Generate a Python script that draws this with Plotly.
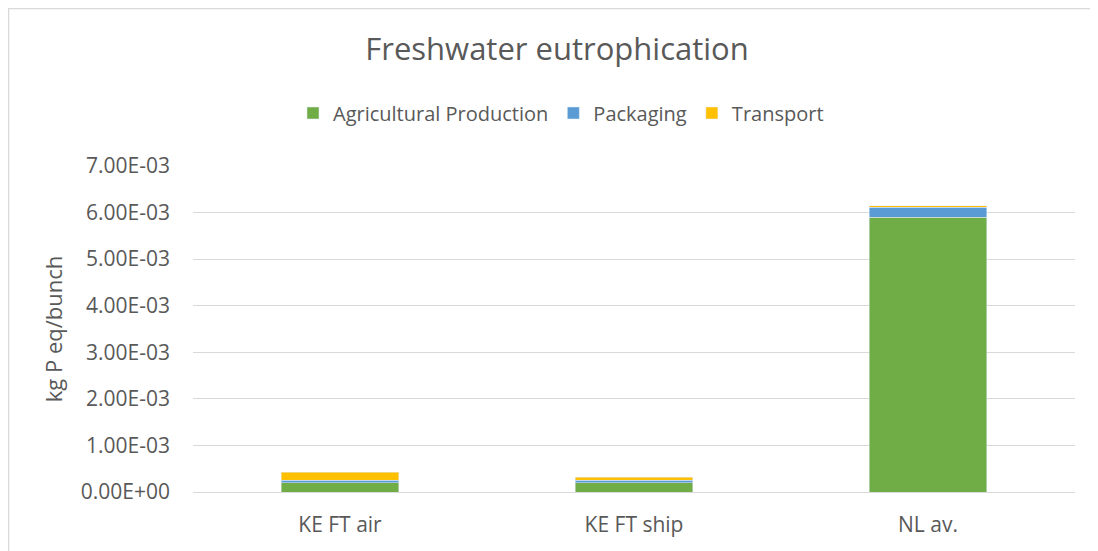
import plotly.graph_objects as go

categories = ['KE FT air', 'KE FT ship', 'NL av.']
agricultural = [0.20e-3, 0.20e-3, 5.90e-3]
packaging = [0.056e-3, 0.056e-3, 0.215e-3]
transport = [0.165e-3, 0.058e-3, 0.03e-3]

y_ticks = [0, 1e-3, 2e-3, 3e-3, 4e-3, 5e-3, 6e-3, 7e-3]
y_tick_labels = ['0.00E+00', '1.00E-03', '2.00E-03', '3.00E-03',
                 '4.00E-03', '5.00E-03', '6.00E-03', '7.00E-03']

text_color = '#595959'
font_family = 'Open Sans, Liberation Sans, sans-serif'

# page body has an 8px margin, so the figure is sized to the remaining area
W, H = 1090, 543
L, R, T, B = 185, 23, 158, 59
plot_w = W - L - R
plot_h = H - T - B

fig = go.Figure()
fig.add_trace(go.Bar(x=categories, y=agricultural, name='Agricultural Production',
                     marker_color='#70ad47'))
fig.add_trace(go.Bar(x=categories, y=packaging, name='Packaging',
                     marker_color='#5b9bd5'))
fig.add_trace(go.Bar(x=categories, y=transport, name='Transport',
                     marker_color='#ffc000'))

fig.update_layout(
    barmode='stack',
    bargap=0.6,
    width=W,
    height=H,
    margin=dict(l=L, r=R, t=T, b=B),
    paper_bgcolor='white',
    plot_bgcolor='white',
    font=dict(family=font_family, size=21, color=text_color),
    title=dict(text='Freshwater eutrophication', x=(557 - 8) / W, xanchor='center',
               y=1 - 41 / H, yanchor='middle',
               font=dict(size=31, color=text_color)),
    legend=dict(orientation='h', x=(561 - 8 - L) / plot_w, xanchor='center',
                y=(plot_h + T - 105) / plot_h, yanchor='middle',
                font=dict(size=20, color=text_color), traceorder='normal'),
    showlegend=True,
)

fig.update_yaxes(
    range=[0, 7e-3],
    tickvals=y_ticks,
    ticktext=y_tick_labels,
    showgrid=True,
    gridcolor='#d9d9d9',
    gridwidth=1,
    zeroline=False,
    showline=False,
    ticks='',
    ticklabelstandoff=22,
    title=dict(text='kg P eq/bunch', font=dict(size=22, color=text_color), standoff=12),
)
fig.update_xaxes(
    showline=True,
    linecolor='#d9d9d9',
    linewidth=1,
    ticks='',
    ticklabelstandoff=14,
)

# light chart-area border (left and top edges visible)
fig.add_shape(type='rect', xref='paper', yref='paper',
              x0=(-L + 0.5) / plot_w, x1=1 + (R + 20) / plot_w,
              y0=-(B + 20) / plot_h, y1=1 + (T - 0.5) / plot_h,
              line=dict(color='#d9d9d9', width=1.5))

fig.write_html('out.html')
